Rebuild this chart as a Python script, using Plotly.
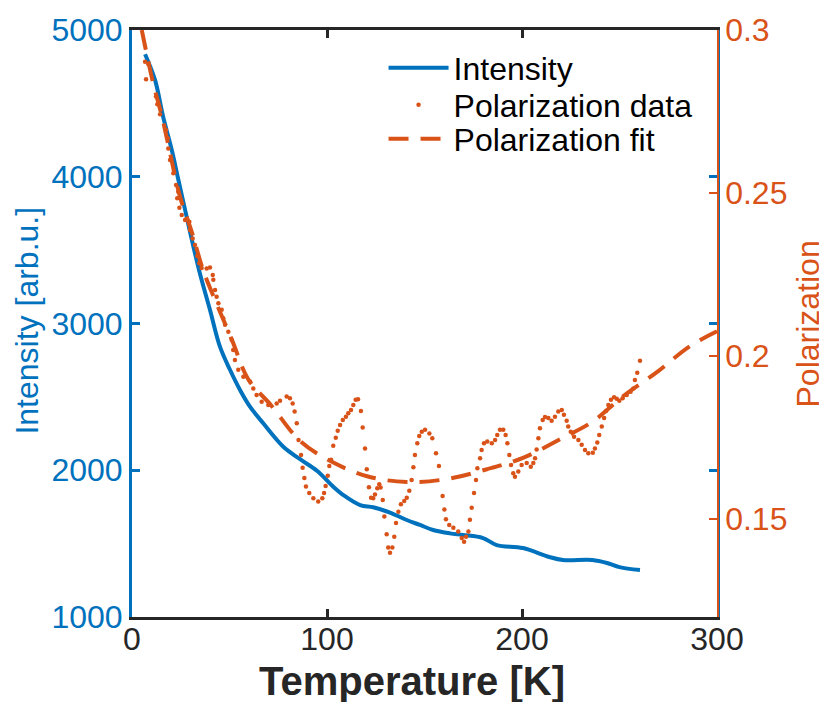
import plotly.graph_objects as go

# Intensity (left axis)
INT_T = [6.7, 11.8, 16.0, 20.4, 23.8, 28.0, 31.3, 34.9, 40.0, 45.1, 50.3, 55.4, 60.5,
         67.3, 77.6, 86.2, 95.0, 103.2, 108.4, 117.0, 123.7, 132.3, 140.9, 147.7,
         154.4, 163.0, 169.7, 180.0, 187.0, 200.5, 214.0, 221.0, 236.0, 243.6, 250.0, 260.5]
INT_I = [4835, 4660, 4407, 4182, 3978, 3728, 3535, 3337, 3092, 2842, 2683, 2547, 2433,
         2320, 2160, 2075, 1995, 1888, 1831, 1763, 1748, 1712, 1661, 1627,
         1593, 1570, 1559, 1538, 1490, 1470, 1409, 1388, 1388, 1368, 1340, 1320]

# Polarization data (right axis)
POL_T = [6.7, 7.2, 8.4, 12.3, 13.0, 14.4, 17.4, 18.3, 18.6, 19.5, 21.2, 22.6, 23.2, 23.7,
         24.3, 25.5, 27.2, 29.4, 29.7, 31.1, 32.3, 33.5, 34.5, 35.7, 38.3, 40.0, 41.4,
         41.7, 42.6, 43.4, 44.3, 46.0, 46.8, 47.7, 49.4, 51.1, 51.9, 52.8, 54.5, 57.1,
         60.5, 62.2, 63.9, 66.5, 69.9, 74.2, 75.9, 79.3, 81.0, 82.4, 83.4, 84.5, 85.4,
         86.7, 87.5, 88.4, 89.2, 90.9, 93.0, 95.5, 97.6, 98.5, 99.3, 100.4, 101.2, 102.1,
         103.2, 104.5, 105.5, 106.7, 108.1, 109.7, 110.9, 112.3, 113.5, 114.7, 115.9,
         117.4, 118.3, 119.5, 120.4, 121.5, 122.6, 123.7, 124.6, 125.8, 126.8, 127.5,
         128.6, 129.4, 130.6, 131.4, 132.3, 133.5, 134.5, 135.4, 136.6, 137.9, 139.6,
         140.9, 142.2, 143.4, 144.3, 145.1, 146.3, 147.3, 148.6, 150.3, 152.5, 154.0,
         155.9, 157.4, 159.3, 160.2, 161.0, 162.7, 164.8, 167.3, 169.1, 170.3, 171.3,
         172.5, 173.3, 174.2, 175.4, 176.4, 177.1, 178.5, 179.3, 180.5, 182.2, 184.5,
         186.2, 187.3, 188.7, 190.4, 191.6, 192.5, 193.5, 194.4, 195.5, 196.4, 198.1,
         199.8, 202.4, 204.5, 205.8, 206.7, 207.5, 208.4, 209.2, 210.6, 211.8, 213.5,
         215.2, 216.9, 218.6, 220.4, 221.5, 222.9, 223.7, 225.0, 226.7, 228.9, 230.6,
         232.3, 234.0, 236.3, 237.4, 238.6, 239.6, 240.9, 242.1, 243.1, 244.3, 245.6,
         247.2, 248.6, 249.9, 251.6, 253.7, 255.7, 257.1, 257.9, 259.1, 260.5]
POL_P = [0.2903, 0.2849, 0.2895, 0.2796, 0.2772, 0.2742, 0.2693, 0.2668, 0.2637, 0.2601,
         0.2561, 0.2525, 0.2484, 0.2504, 0.2455, 0.2433, 0.2417, 0.2412, 0.2387, 0.2361,
         0.2341, 0.2307, 0.2285, 0.2270, 0.2269, 0.2272, 0.2249, 0.2234, 0.2203, 0.2182,
         0.2162, 0.2142, 0.2116, 0.2096, 0.2075, 0.2050, 0.2019, 0.1988, 0.1958, 0.1937,
         0.1922, 0.1901, 0.1881, 0.1860, 0.1850, 0.1855, 0.1863, 0.1876, 0.1871, 0.1855,
         0.1830, 0.1794, 0.1743, 0.1697, 0.1658, 0.1626, 0.1600, 0.1580, 0.1564, 0.1554,
         0.1564, 0.1580, 0.1602, 0.1633, 0.1663, 0.1682, 0.1725, 0.1750, 0.1771, 0.1789,
         0.1804, 0.1814, 0.1825, 0.1835, 0.1850, 0.1866, 0.1868, 0.1832, 0.1781, 0.1717,
         0.1653, 0.1598, 0.1566, 0.1564, 0.1576, 0.1595, 0.1607, 0.1597, 0.1559, 0.1508,
         0.1454, 0.1413, 0.1397, 0.1413, 0.1446, 0.1488, 0.1523, 0.1546, 0.1556, 0.1566,
         0.1587, 0.1620, 0.1659, 0.1697, 0.1733, 0.1755, 0.1768, 0.1774, 0.1763, 0.1748,
         0.1702, 0.1663, 0.1571, 0.1530, 0.1500, 0.1482, 0.1474, 0.1462, 0.1442, 0.1431,
         0.1446, 0.1462, 0.1498, 0.1535, 0.1580, 0.1620, 0.1656, 0.1687, 0.1712, 0.1733,
         0.1738, 0.1733, 0.1743, 0.1758, 0.1774, 0.1774, 0.1758, 0.1733, 0.1697, 0.1666,
         0.1641, 0.1630, 0.1646, 0.1666, 0.1672, 0.1661, 0.1672, 0.1687, 0.1714, 0.1748,
         0.1779, 0.1804, 0.1813, 0.1810, 0.1802, 0.1814, 0.1830, 0.1835, 0.1820, 0.1802,
         0.1784, 0.1768, 0.1753, 0.1743, 0.1728, 0.1712, 0.1702, 0.1704, 0.1717, 0.1735,
         0.1758, 0.1784, 0.1810, 0.1832, 0.1850, 0.1866, 0.1874, 0.1869, 0.1863, 0.1871,
         0.1881, 0.1891, 0.1901, 0.1927, 0.1949, 0.1986]

# Polarization fit (right axis)
FIT_T = [5.0, 10.8, 15.4, 19.5, 24.6, 30.8, 36.4, 42.6, 51.5, 59.5, 71.5, 86.2, 102.5,
         121.0, 141.0, 161.5, 182.0, 200.5, 219.5, 236.4, 251.8, 269.0, 286.0, 300.0]
FIT_P = [0.3000, 0.2838, 0.2734, 0.2623, 0.2489, 0.2378, 0.2265, 0.2172, 0.2046, 0.1930,
         0.1848, 0.1740, 0.1676, 0.1631, 0.1614, 0.1623, 0.1653, 0.1688, 0.1745, 0.1800,
         0.1877, 0.1950, 0.2030, 0.2076]

X_TICKS = [0, 100, 200, 300]
Y1_TICKS = [1000, 2000, 3000, 4000, 5000]
Y2_TICKS = [0.15, 0.2, 0.25, 0.3]
Y2_TEXT = ["0.15", "0.2", "0.25", "0.3"]

BLUE = "#0072BD"
ORANGE = "#D95319"
DARK = "#262626"
FONT = "Liberation Sans, Arial, Helvetica, sans-serif"
FS = 32

# page body has an 8px margin, so the figure is 8px smaller than the window
W, H = 819, 694
ML, MR, MT, MB = 124, 110, 22, 85
PW, PH = W - ML - MR, H - MT - MB

fig = go.Figure()
fig.add_trace(go.Scatter(x=INT_T, y=INT_I, name="Intensity", mode="lines",
                         line=dict(color=BLUE, width=4, shape="spline"),
                         yaxis="y", legend="legend"))
fig.add_trace(go.Scatter(x=POL_T, y=POL_P, name="Polarization data", mode="markers",
                         marker=dict(color=ORANGE, size=4.5),
                         yaxis="y2", legend="legend2"))
fig.add_trace(go.Scatter(x=FIT_T, y=FIT_P, name="Polarization fit", mode="lines",
                         line=dict(color=ORANGE, width=4, dash="20px,12px", shape="spline"),
                         yaxis="y2", legend="legend3"))


def leg(ypix):
    return dict(x=0.43, y=1 - (ypix - 30) / PH, xanchor="left", yanchor="middle",
                bgcolor="rgba(0,0,0,0)", borderwidth=0, itemwidth=60,
                font=dict(size=FS, color="black", family=FONT))


fig.add_annotation(text="Temperature [K]", xref="paper", yref="paper",
                   x=(404 - ML) / PW, y=(MT + PH - 673) / PH,
                   xanchor="center", yanchor="middle", showarrow=False,
                   font=dict(size=40, color=DARK, weight="bold"))
fig.add_annotation(text="Intensity [arb.u.]", xref="paper", yref="paper",
                   x=(19 - ML) / PW, y=0.505, textangle=-90,
                   xanchor="center", yanchor="middle", showarrow=False,
                   font=dict(size=FS, color=BLUE))
fig.add_annotation(text="Polarization", xref="paper", yref="paper",
                   x=(799 - ML) / PW, y=0.5, textangle=-90,
                   xanchor="center", yanchor="middle", showarrow=False,
                   font=dict(size=FS, color=ORANGE))

fig.update_layout(
    width=W, height=H,
    margin=dict(l=ML, r=MR, t=MT, b=MB),
    paper_bgcolor="white", plot_bgcolor="white",
    font=dict(family=FONT, size=FS, color=DARK),
    showlegend=True,
    legend=leg(68), legend2=leg(105), legend3=leg(139),
    xaxis=dict(range=[0, 300], tickvals=X_TICKS, showgrid=False, zeroline=False,
               automargin=False,
               showline=True, linecolor=DARK, linewidth=3, mirror="ticks",
               ticks="inside", ticklen=8, tickwidth=3, tickcolor=DARK,
               ticklabelstandoff=-8,
               tickfont=dict(size=FS, color=DARK)),
    yaxis=dict(range=[1000, 5000], tickvals=Y1_TICKS, showgrid=False, zeroline=False,
               automargin=False,
               showline=True, linecolor=BLUE, linewidth=3, mirror="ticks",
               ticks="inside", ticklen=8, tickwidth=3, tickcolor=BLUE,
               tickfont=dict(size=FS, color=BLUE)),
    yaxis2=dict(range=[0.12, 0.3], tickvals=Y2_TICKS, ticktext=Y2_TEXT, overlaying="y",
                side="right", showgrid=False, zeroline=False, automargin=False,
                showline=True, linecolor=ORANGE, linewidth=1.5,
                ticks="inside", ticklen=8, tickwidth=1.5, tickcolor=ORANGE,
                tickfont=dict(size=FS, color=ORANGE)),
)

fig.write_html("out.html")
